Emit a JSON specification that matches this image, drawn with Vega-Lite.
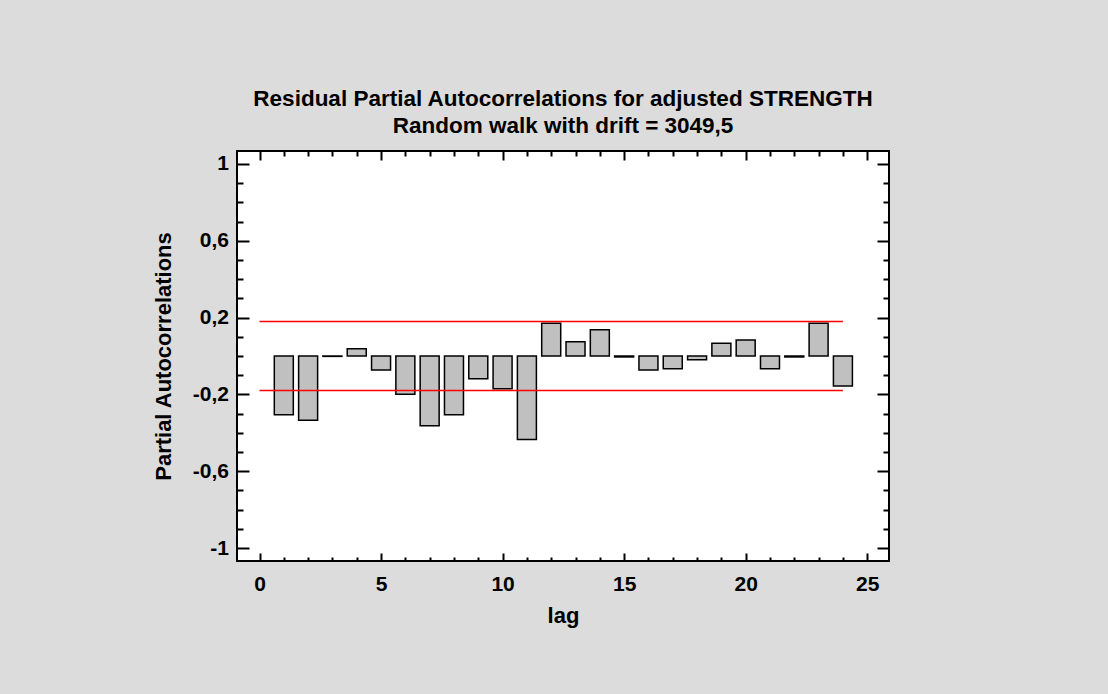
{
  "$schema": "https://vega.github.io/schema/vega-lite/v6.json",
  "autosize": {"type": "none"},
  "width": 652,
  "height": 410,
  "padding": {"left": 237, "top": 151, "right": 219, "bottom": 133},
  "background": "#dcdcdc",
  "title": {
    "text": ["Residual Partial Autocorrelations for adjusted STRENGTH", "Random walk with drift = 3049,5"],
    "font": "Liberation Sans, Arial, sans-serif",
    "fontSize": 22.5,
    "fontWeight": "bold",
    "lineHeight": 27,
    "color": "black",
    "anchor": "middle",
    "frame": "group",
    "baseline": "alphabetic",
    "offset": -5
  },
  "config": {
    "view": {"stroke": "black", "strokeWidth": 2, "fill": "white"},
    "axis": {
      "domain": false,
      "grid": false,
      "labelFont": "Liberation Sans, Arial, sans-serif",
      "titleFont": "Liberation Sans, Arial, sans-serif",
      "labelColor": "black",
      "titleColor": "black",
      "tickColor": "black",
      "labelFontWeight": "bold",
      "titleFontWeight": "bold",
      "labelFontSize": 21,
      "titleFontSize": 22,
      "tickWidth": 2,
      "labelOverlap": false,
      "labelFlush": false,
      "labelBound": false
    }
  },
  "datasets": {
    "pacf": [
      {"lag": 1, "value": -0.306},
      {"lag": 2, "value": -0.335},
      {"lag": 3, "value": -0.002},
      {"lag": 4, "value": 0.038},
      {"lag": 5, "value": -0.073},
      {"lag": 6, "value": -0.199},
      {"lag": 7, "value": -0.363},
      {"lag": 8, "value": -0.306},
      {"lag": 9, "value": -0.118},
      {"lag": 10, "value": -0.171},
      {"lag": 11, "value": -0.434},
      {"lag": 12, "value": 0.171},
      {"lag": 13, "value": 0.074},
      {"lag": 14, "value": 0.137},
      {"lag": 15, "value": -0.005},
      {"lag": 16, "value": -0.073},
      {"lag": 17, "value": -0.066},
      {"lag": 18, "value": -0.019},
      {"lag": 19, "value": 0.066},
      {"lag": 20, "value": 0.083},
      {"lag": 21, "value": -0.066},
      {"lag": 22, "value": -0.005},
      {"lag": 23, "value": 0.171},
      {"lag": 24, "value": -0.156}
    ],
    "limits": [
      {"lag": 0, "value": 0.18, "band": "upper"},
      {"lag": 24, "value": 0.18, "band": "upper"},
      {"lag": 0, "value": -0.18, "band": "lower"},
      {"lag": 24, "value": -0.18, "band": "lower"}
    ]
  },
  "layer": [
    {
      "data": {"name": "pacf"},
      "mark": {"type": "bar", "width": 19, "fill": "#c0c0c0", "stroke": "black", "strokeWidth": 1.5},
      "encoding": {
        "x": {
          "field": "lag", "type": "quantitative",
          "scale": {"domain": [-0.72, 25.69], "nice": false, "zero": false},
          "axis": {
            "orient": "bottom",
            "values": [0,1,2,3,4,5,6,7,8,9,10,11,12,13,14,15,16,17,18,19,20,21,22,23,24,25],
            "labelExpr": "datum.value % 5 == 0 ? datum.label : ''",
            "tickSize": {"condition": {"test": "datum.value % 5 == 0", "value": -8}, "value": -4},
            "labelPadding": 20.5,
            "title": "lag",
            "titlePadding": 7
          }
        },
        "y": {
          "field": "value", "type": "quantitative",
          "scale": {"domain": [-1.067, 1.067], "nice": false, "zero": false},
          "axis": {
            "orient": "left",
            "values": [-1,-0.9,-0.8,-0.7,-0.6,-0.5,-0.4,-0.3,-0.2,-0.1,0,0.1,0.2,0.3,0.4,0.5,0.6,0.7,0.8,0.9,1],
            "labelExpr": "abs(round(datum.value*10)) % 4 == 2 ? (datum.value < 0 ? '-' : '') + replace(format(abs(datum.value), '~g'), '.', ',') : ''",
            "tickSize": {"condition": {"test": "abs(round(datum.value*10)) % 4 == 2", "value": -12}, "value": -6},
            "labelPadding": 20.5,
            "title": "Partial Autocorrelations",
            "titlePadding": 17
          }
        },
        "y2": {"datum": 0}
      }
    },
    {
      "data": {"name": "limits"},
      "mark": {"type": "line", "stroke": "#ff0000", "strokeWidth": 1.5},
      "encoding": {
        "x": {
          "field": "lag", "type": "quantitative",
          "axis": {
            "orient": "top",
            "values": [0,1,2,3,4,5,6,7,8,9,10,11,12,13,14,15,16,17,18,19,20,21,22,23,24,25],
            "labels": false,
            "tickSize": {"condition": {"test": "datum.value % 5 == 0", "value": -9}, "value": -5},
            "title": null
          }
        },
        "y": {
          "field": "value", "type": "quantitative",
          "axis": {
            "orient": "right",
            "values": [-1,-0.9,-0.8,-0.7,-0.6,-0.5,-0.4,-0.3,-0.2,-0.1,0,0.1,0.2,0.3,0.4,0.5,0.6,0.7,0.8,0.9,1],
            "labels": false,
            "tickSize": {"condition": {"test": "abs(round(datum.value*10)) % 4 == 2", "value": -12}, "value": -6},
            "title": null
          }
        },
        "detail": {"field": "band", "type": "nominal"}
      }
    }
  ],
  "resolve": {"axis": {"x": "independent", "y": "independent"}}
}
